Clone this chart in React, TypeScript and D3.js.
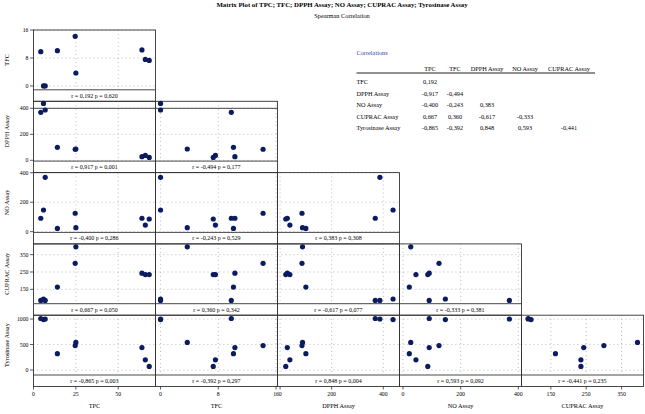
import React, { useRef, useEffect } from 'react';
import * as d3 from 'd3';

const variables = ['TPC', 'TFC', 'DPPH Assay', 'NO Assay', 'CUPRAC Assay', 'Tyrosinase Assay'];

// one value per extract (9 samples)
const tpc = [5.9, 6.9, 4.3, 14.1, 25.0, 24.6, 64.0, 66.0, 68.3];
const tfc = [0, 0, 9.8, 10.1, 3.7, 14.2, 10.3, 7.6, 7.3];
const dpph = [438, 387, 369, 100, 87, 85, 28, 38, 22];
const no = [147, 369, 91, 22, 27, 125, 91, 45, 86];
const cuprac = [94, 86, 86, 163, 395, 300, 243, 235, 235];
const tyrosinase = [990, 1000, 1010, 320, 540, 480, 440, 200, 70];

// Spearman table (lower triangle)
const rhoTable = [
  [0.192],
  [-0.917, -0.494],
  [-0.4, -0.243, 0.383],
  [0.667, 0.36, -0.617, -0.333],
  [-0.865, -0.392, 0.848, 0.593, -0.441],
];
// r as printed under each panel
const rhoStrip = [
  [0.192],
  [0.917, -0.494],
  [-0.4, -0.243, 0.383],
  [0.667, 0.36, -0.617, -0.333],
  [-0.865, -0.392, 0.848, 0.593, -0.441],
];
const pValues = [
  [0.62],
  [0.001, 0.177],
  [0.286, 0.529, 0.308],
  [0.05, 0.342, 0.077, 0.381],
  [0.003, 0.297, 0.004, 0.092, 0.235],
];

// axis extents + ticks
const xDomains = [[0, 72], [-0.7, 16.2], [-10, 463], [-12, 411], [67, 412]];
const yDomains = [[-1.1, 16], [-6, 454], [-5, 401], [67, 412], [-98, 1075]];
const xTicks = [[0, 25, 50], [0, 8, 16], [0, 200, 400], [0, 200, 400], [150, 250, 350]];
const yTicks = [[0, 8, 16], [0, 200, 400], [0, 200, 400], [150, 250, 350], [0, 500, 1000]];

const W = 645;
const H = 414;
const FONT = '"Liberation Serif", "DejaVu Serif", serif';

const fmt = (v: number) => d3.format('.3f')(v).replace('.', ',').replace('\u2212', '-');

const App: React.FC = () => {
  const svgRef = useRef<SVGSVGElement | null>(null);

  useEffect(() => {
    if (!svgRef.current) return;
    const svg = d3.select(svgRef.current);
    svg.selectAll('*').remove();

    const series = [tpc, tfc, dpph, no, cuprac, tyrosinase];

    const left = 33.5;
    const colW = 122;
    const top = 30;
    const panelH = 59.8;
    const stripH = 11.5;
    const rowStep = panelH + stripH;
    const nRows = 5;

    const xScales = xDomains.map((d, c) =>
      d3.scaleLinear().domain(d).range([left + c * colW, left + (c + 1) * colW])
    );
    const yScales = yDomains.map((d, r) =>
      d3.scaleLinear().domain(d).range([top + r * rowStep + panelH, top + r * rowStep])
    );

    // titles
    svg.append('text')
      .attr('x', 342).attr('y', 6.5)
      .attr('text-anchor', 'middle')
      .attr('font-family', FONT).attr('font-size', 6.8).attr('font-weight', 'bold')
      .text('Matrix Plot of TPC; TFC; DPPH Assay; NO Assay; CUPRAC Assay; Tyrosinase Assay');
    svg.append('text')
      .attr('x', 342).attr('y', 17.5)
      .attr('text-anchor', 'middle')
      .attr('font-family', FONT).attr('font-size', 6.3)
      .text('Spearman Correlation');

    const g = svg.append('g');

    for (let r = 0; r < nRows; r++) {
      const y = yScales[r];
      const py0 = top + r * rowStep;
      const py1 = py0 + panelH;
      const ys = series[r + 1];

      for (let c = 0; c <= r; c++) {
        const x = xScales[c];
        const [px0, px1] = x.range();
        const xs = series[c];
        const cell = g.append('g');

        // dotted grid
        cell.selectAll('.vgrid')
          .data(xTicks[c])
          .join('line')
          .attr('x1', d => x(d)).attr('x2', d => x(d))
          .attr('y1', py0).attr('y2', py1)
          .attr('stroke', '#8a8a8a').attr('stroke-width', 0.7)
          .attr('stroke-dasharray', '0.8,3.2');
        cell.selectAll('.hgrid')
          .data(yTicks[r])
          .join('line')
          .attr('x1', px0).attr('x2', px1)
          .attr('y1', d => y(d)).attr('y2', d => y(d))
          .attr('stroke', '#8a8a8a').attr('stroke-width', 0.7)
          .attr('stroke-dasharray', '0.8,3.2');

        // DPPH row shows a solid line at its top tick
        if (r === 1) {
          cell.append('line')
            .attr('x1', px0).attr('x2', px1)
            .attr('y1', y(400)).attr('y2', y(400))
            .attr('stroke', '#333').attr('stroke-width', 0.9);
        }

        // box (panel + r strip)
        cell.append('rect')
          .attr('x', px0).attr('y', py0)
          .attr('width', px1 - px0).attr('height', rowStep)
          .attr('fill', 'none').attr('stroke', '#333').attr('stroke-width', 0.9);
        cell.append('line')
          .attr('x1', px0).attr('x2', px1)
          .attr('y1', py1).attr('y2', py1)
          .attr('stroke', '#333').attr('stroke-width', 0.9);

        // points
        cell.selectAll('circle')
          .data(xs.map((v, i) => [v, ys[i]]))
          .join('circle')
          .attr('cx', d => x(d[0]))
          .attr('cy', d => y(d[1]))
          .attr('r', 2.6)
          .attr('fill', '#0b1b60');

        // r / p label
        cell.append('text')
          .attr('x', (px0 + px1) / 2)
          .attr('y', py1 + stripH / 2 + 2.1)
          .attr('text-anchor', 'middle')
          .attr('font-family', FONT).attr('font-size', 6)
          .text(`r = ${fmt(rhoStrip[r][c])} p = ${fmt(pValues[r][c])}`);
      }

      // left y axis
      const ax = g.append('g');
      ax.selectAll('line')
        .data(yTicks[r])
        .join('line')
        .attr('x1', left - 3.5).attr('x2', left)
        .attr('y1', d => y(d)).attr('y2', d => y(d))
        .attr('stroke', '#333').attr('stroke-width', 0.8);
      ax.selectAll('text')
        .data(yTicks[r])
        .join('text')
        .attr('x', left - 5).attr('y', d => y(d) + 2)
        .attr('text-anchor', 'end')
        .attr('font-family', FONT).attr('font-size', 5.8)
        .text(d => String(d));

      svg.append('text')
        .attr('transform', `translate(9,${(py0 + py1) / 2}) rotate(-90)`)
        .attr('text-anchor', 'middle')
        .attr('font-family', FONT).attr('font-size', 6.3)
        .text(variables[r + 1]);
    }

    // bottom x axes
    const bottom = top + nRows * rowStep;
    for (let c = 0; c < nRows; c++) {
      const x = xScales[c];
      const ax = g.append('g');
      ax.selectAll('line')
        .data(xTicks[c])
        .join('line')
        .attr('x1', d => x(d)).attr('x2', d => x(d))
        .attr('y1', bottom).attr('y2', bottom + 3)
        .attr('stroke', '#333').attr('stroke-width', 0.8);
      ax.selectAll('text')
        .data(xTicks[c])
        .join('text')
        .attr('x', d => x(d)).attr('y', bottom + 9)
        .attr('text-anchor', 'middle')
        .attr('font-family', FONT).attr('font-size', 5.8)
        .text(d => String(d));
      const [a, b] = x.range();
      svg.append('text')
        .attr('x', (a + b) / 2).attr('y', bottom + 21.5)
        .attr('text-anchor', 'middle')
        .attr('font-family', FONT).attr('font-size', 6.3)
        .text(variables[c]);
    }

    // correlation table
    const tLeft = 356.5;
    const colCenters = [430, 455, 487, 525, 569];
    const tbl = svg.append('g').attr('font-family', FONT).attr('font-size', 6.3);
    tbl.append('text')
      .attr('x', tLeft).attr('y', 54.7)
      .attr('fill', '#2f47a6')
      .text('Correlations');
    tbl.selectAll('.hdr')
      .data(variables.slice(0, 5))
      .join('text')
      .attr('x', (_, i) => colCenters[i]).attr('y', 70.5)
      .attr('text-anchor', 'middle')
      .text(d => d);
    tbl.append('line')
      .attr('x1', tLeft).attr('x2', 595)
      .attr('y1', 73).attr('y2', 73)
      .attr('stroke', '#222').attr('stroke-width', 1);
    rhoTable.forEach((row, i) => {
      const yy = 84 + i * 11.6;
      tbl.append('text').attr('x', tLeft).attr('y', yy).text(variables[i + 1]);
      tbl.selectAll(`.v${i}`)
        .data(row)
        .join('text')
        .attr('x', (_, j) => colCenters[j]).attr('y', yy)
        .attr('text-anchor', 'middle')
        .text(d => fmt(d));
    });
  }, []);

  return (
    <svg
      ref={svgRef}
      width={W}
      height={H}
      style={{ position: 'absolute', left: 0, top: 0, background: '#fff' }}
    />
  );
};

export default App;
